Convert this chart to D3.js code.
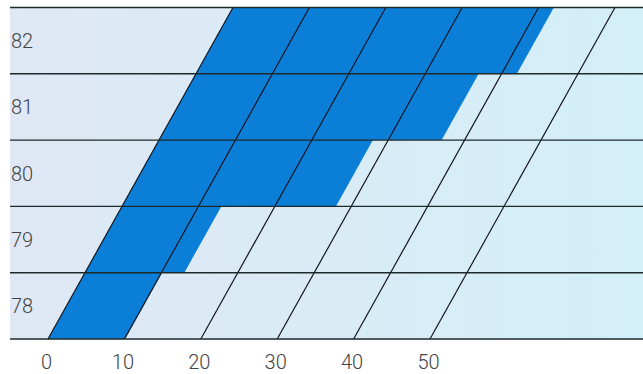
<!DOCTYPE html>
<html><head><meta charset="utf-8">
<script src="https://cdn.jsdelivr.net/npm/d3@7"></script>
<style>body{margin:0;background:#fff}svg{display:block}</style>
</head><body>
<script>
const years = ["78", "79", "80", "81", "82"];
const values = [10.1, 13, 28, 37, 42];
const xTicks = [0, 10, 20, 30, 40, 50];

const W = 643, H = 374;
const svg = d3.select("body").append("svg").attr("width", W).attr("height", H);

const plotLeft = 10, plotRight = 643, plotTop = 7.5, plotBottom = 339;
const x = d3.scaleLinear().domain([0, 50]).range([48, 430]);
const y = d3.scaleBand().domain(years).range([plotBottom, plotTop]).padding(0);
const k = 0.558; // skew: px right per px up
const sx = (v, yy) => x(v) + k * (plotBottom - yy);

const defs = svg.append("defs");
const g = defs.append("linearGradient").attr("id", "bg").attr("x1", 0).attr("x2", 1).attr("y1", 0).attr("y2", 0);
g.append("stop").attr("offset", 0).attr("stop-color", "#dfe8f4");
g.append("stop").attr("offset", 1).attr("stop-color", "#d3eff8");

svg.append("rect").attr("x", plotLeft).attr("y", plotTop).attr("width", plotRight - plotLeft)
  .attr("height", plotBottom - plotTop).attr("fill", "url(#bg)");

// bars
svg.selectAll("path.bar").data(years).join("path").attr("class", "bar")
  .attr("fill", "#0b7fd8")
  .attr("d", (d, i) => {
    const y0 = y(d), y1 = y(d) + y.bandwidth();
    const v = values[i];
    return `M${sx(0, y1)},${y1}L${sx(v, y1)},${y1}L${sx(v, y0)},${y0}L${sx(0, y0)},${y0}Z`;
  });

// skewed grid lines
svg.selectAll("line.grid").data(xTicks).join("line").attr("class", "grid")
  .attr("x1", d => sx(d, plotBottom)).attr("y1", plotBottom)
  .attr("x2", d => sx(d, plotTop)).attr("y2", plotTop)
  .attr("stroke", "#15151f").attr("stroke-width", 1.2);

// horizontal row lines
const hy = years.map(d => y(d)).concat([plotBottom]);
svg.selectAll("line.row").data(hy).join("line").attr("class", "row")
  .attr("x1", plotLeft).attr("x2", plotRight).attr("y1", d => d).attr("y2", d => d)
  .attr("stroke", "#1e2a2a").attr("stroke-width", 1.4);

const font = "Roboto, 'Liberation Sans', Arial, sans-serif";
// row labels
svg.selectAll("text.yl").data(years).join("text").attr("class", "yl")
  .attr("x", 11).attr("y", d => y(d) + y.bandwidth() / 2 + 7.5)
  .attr("font-family", font).attr("font-weight", 300).attr("font-size", 20)
  .attr("fill", "#444").text(d => d);

// x tick labels
svg.selectAll("text.xl").data(xTicks).join("text").attr("class", "xl")
  .attr("x", d => x(d) - 1.5).attr("y", 368.5).attr("text-anchor", "middle")
  .attr("font-family", font).attr("font-weight", 300).attr("font-size", 20)
  .attr("fill", "#444").text(d => d);
</script>
</body></html>
